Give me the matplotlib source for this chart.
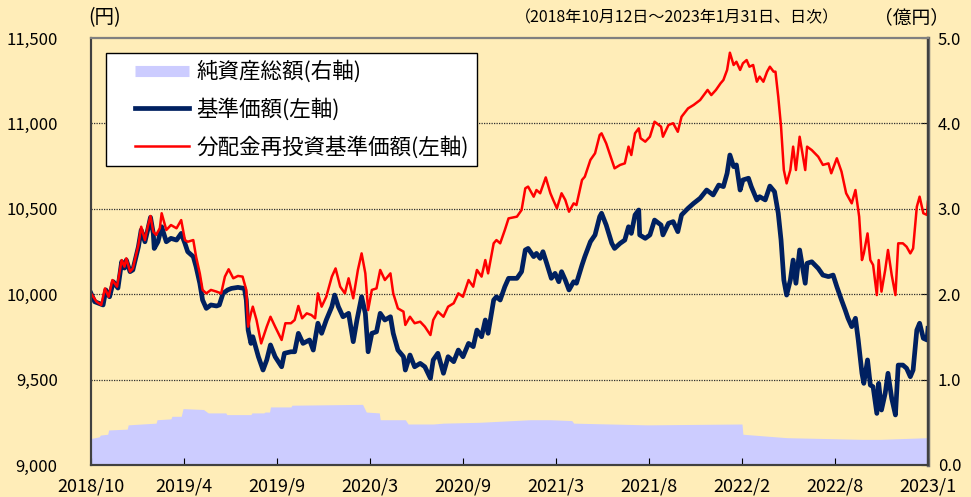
import numpy as np
import matplotlib.pyplot as plt
from matplotlib.lines import Line2D
from matplotlib.legend_handler import HandlerLine2D

plt.rcParams['font.family'] = ['Noto Sans CJK JP', 'DejaVu Sans']

# x is a trading-day index scaled so that each date label is 100 apart
tick_labels = ['2018/10', '2019/4', '2019/9', '2020/3', '2020/9',
               '2021/3', '2021/8', '2022/2', '2022/8', '2023/1']

nav_x = [0, 4, 13, 16, 20, 24, 29, 33, 36, 38, 42, 45, 51, 54, 58, 61, 64, 67, 68, 72,
         76, 81, 86, 92, 97, 101, 104, 110, 113, 117, 120, 124, 129, 135, 138, 142, 147,
         151, 158, 165, 167, 169, 172, 174, 180, 185, 189, 193, 198, 205, 208, 215, 219,
         223, 228, 235, 239, 244, 248, 253, 259, 262, 266, 271, 277, 282, 286, 291, 295,
         298, 302, 307, 311, 316, 322, 325, 330, 336, 338, 343, 348, 354, 359, 365, 368,
         373, 379, 384, 390, 395, 400, 406, 411, 415, 420, 424, 427, 433, 436, 440, 445,
         449, 451, 458, 463, 467, 470, 476, 479, 483, 486, 490, 495, 499, 503, 506, 510,
         514, 519, 522, 528, 531, 537, 542, 547, 549, 554, 560, 563, 569, 574, 578, 581,
         585, 589, 590, 596, 601, 606, 613, 615, 621, 626, 631, 635, 642, 648, 655, 662,
         669, 675, 680, 684, 687, 691, 694, 698, 701, 707, 710, 716, 719, 725, 730, 735,
         739, 742, 745, 748, 752, 755, 758, 762, 768, 770, 775, 782, 787, 793, 798, 802,
         807, 811, 814, 818, 822, 825, 829, 831, 835, 838, 841, 845, 847, 850, 854, 857,
         861, 865, 868, 873, 877, 881, 884, 888, 891, 895, 899, 900]
nav = [10005, 9956, 9937, 10025, 9985, 10073, 10036, 10190, 10153, 10200, 10132, 10142,
       10278, 10376, 10307, 10376, 10450, 10356, 10268, 10307, 10395, 10307, 10327, 10317,
       10356, 10298, 10249, 10220, 10161, 10064, 9966, 9917, 9937, 9931, 9937, 10005, 10025,
       10034, 10040, 10034, 9966, 9790, 9712, 9751, 9634, 9556, 9615, 9703, 9634, 9575,
       9654, 9663, 9663, 9771, 9712, 9732, 9673, 9830, 9771, 9849, 9927, 9995, 9927, 9868,
       9888, 9722, 9849, 9985, 9888, 9663, 9771, 9780, 9888, 9849, 9868, 9771, 9673, 9634,
       9556, 9644, 9575, 9595, 9575, 9507, 9615, 9654, 9537, 9634, 9605, 9673, 9634, 9712,
       9693, 9790, 9751, 9849, 9771, 9966, 9985, 9966, 10044, 10093, 10093, 10093, 10132,
       10259, 10268, 10220, 10239, 10210, 10249, 10181, 10093, 10122, 10073, 10132, 10083,
       10025, 10073, 10064, 10171, 10220, 10307, 10347, 10454, 10474, 10405, 10298, 10268,
       10298, 10317, 10395, 10356, 10464, 10493, 10347, 10327, 10347, 10434, 10405, 10347,
       10415, 10425, 10366, 10464, 10503, 10532, 10562, 10610, 10581, 10639, 10630, 10708,
       10815, 10747, 10757, 10610, 10669, 10679, 10630, 10552, 10571, 10552, 10633, 10600,
       10474, 10317, 10083, 9995, 10083, 10200, 10064, 10259, 10064, 10181, 10190, 10151,
       10112, 10103, 10112, 10044, 9966, 9907, 9859, 9810, 9859, 9732, 9537, 9478, 9615,
       9468, 9458, 9302, 9478, 9322, 9420, 9537, 9390, 9293, 9585, 9585, 9566, 9517, 9556,
       9790, 9830, 9742, 9732, 9800]

reinv_x = [0, 6, 11, 15, 19, 23, 28, 33, 36, 38, 42, 45, 51, 54, 58, 61, 64, 67, 70, 74,
           76, 81, 86, 92, 97, 101, 104, 110, 113, 117, 120, 124, 129, 135, 140, 144, 148,
           153, 158, 163, 167, 169, 172, 174, 178, 183, 189, 193, 198, 205, 209, 215, 219,
           223, 227, 232, 237, 241, 244, 248, 253, 259, 263, 268, 273, 277, 282, 287, 291,
           295, 298, 302, 307, 311, 316, 322, 325, 330, 336, 338, 343, 348, 354, 359, 365,
           368, 373, 379, 384, 390, 395, 400, 406, 411, 415, 420, 424, 427, 433, 436, 440,
           445, 449, 458, 463, 467, 470, 476, 479, 483, 489, 494, 497, 501, 506, 510, 514,
           519, 522, 528, 531, 537, 542, 547, 549, 554, 560, 563, 569, 574, 578, 581, 585,
           589, 591, 596, 601, 606, 613, 615, 621, 626, 631, 635, 642, 648, 655, 663, 667,
           672, 677, 680, 684, 687, 691, 694, 698, 701, 705, 708, 712, 716, 719, 723, 727,
           730, 734, 736, 739, 742, 745, 748, 752, 755, 758, 762, 768, 770, 775, 782, 787,
           793, 796, 802, 807, 812, 818, 822, 826, 829, 831, 835, 838, 841, 845, 847, 850,
           854, 857, 861, 865, 868, 873, 877, 881, 884, 888, 891, 895, 899, 900]
reinv = [10005, 9956, 9937, 10034, 9985, 10083, 10044, 10200, 10161, 10210, 10132, 10151,
         10288, 10395, 10317, 10395, 10458, 10366, 10347, 10386, 10474, 10376, 10405, 10386,
         10434, 10317, 10307, 10317, 10220, 10122, 10025, 10005, 10025, 10015, 10005, 10103,
         10146, 10093, 10107, 10103, 10025, 9810, 9888, 9927, 9849, 9712, 9810, 9868, 9810,
         9732, 9830, 9830, 9849, 9931, 9859, 9888, 9878, 9859, 10005, 9927, 9985, 10103,
         10151, 10044, 10005, 10093, 9976, 10142, 10239, 10122, 9907, 10025, 10034, 10142,
         10083, 10122, 10005, 9917, 9898, 9820, 9868, 9830, 9839, 9810, 9761, 9849, 9898,
         9868, 9927, 9947, 10005, 9985, 10083, 10044, 10142, 10103, 10200, 10122, 10298,
         10317, 10298, 10376, 10444, 10454, 10493, 10620, 10630, 10571, 10610, 10591, 10684,
         10591, 10552, 10503, 10591, 10552, 10483, 10532, 10522, 10669, 10688, 10786, 10825,
         10932, 10942, 10883, 10786, 10737, 10757, 10766, 10864, 10815, 10942, 10971, 10913,
         10893, 10922, 11010, 10981, 10922, 10991, 11001, 10951, 11039, 11088, 11108, 11137,
         11196, 11166, 11196, 11235, 11254, 11313, 11414, 11342, 11361, 11313, 11352, 11371,
         11332, 11342, 11244, 11274, 11244, 11303, 11332, 11303, 11303, 11156, 10981, 10727,
         10649, 10727, 10864, 10727, 10922, 10727, 10864, 10844, 10805, 10757, 10766, 10708,
         10796, 10718, 10591, 10532, 10610, 10454, 10200, 10239, 10356, 10200, 10171, 9995,
         10200, 10015, 10142, 10259, 10112, 9995, 10298, 10298, 10278, 10239, 10268, 10512,
         10571, 10474, 10464, 10542]

# net assets (億円)
aum_x = [0, 9, 10, 18, 19, 39, 40, 70, 71, 86, 87, 97, 99, 121, 126, 145, 146, 172, 173,
         186, 187, 192, 193, 215, 216, 292, 296, 310, 311, 338, 341, 368, 379, 418, 472,
         494, 517, 519, 598, 700, 701, 748, 830, 848, 900]
aum = [0.31, 0.33, 0.35, 0.36, 0.41, 0.42, 0.47, 0.49, 0.53, 0.54, 0.57, 0.57, 0.66,
       0.65, 0.61, 0.61, 0.59, 0.59, 0.61, 0.61, 0.62, 0.62, 0.68, 0.68, 0.70, 0.71, 0.62,
       0.61, 0.53, 0.53, 0.48, 0.48, 0.49, 0.50, 0.53, 0.53, 0.52, 0.49, 0.47, 0.48, 0.36,
       0.32, 0.30, 0.30, 0.32]

bg = '#FFEDB8'
navy = '#002060'

fig = plt.figure(figsize=(9.71, 4.97), dpi=100, facecolor=bg)
ax = fig.add_axes([0.0937, 0.0644, 0.862, 0.8591])
ax2 = ax.twinx()
ax.set_zorder(ax2.get_zorder() + 1)
ax.patch.set_visible(False)
ax2.patch.set_facecolor('white')

ax2.fill_between(aum_x, aum, 0, color='#CCCCFF', linewidth=0)
ax.plot(nav_x, nav, color=navy, linewidth=3.4, solid_joinstyle='round')
ax.plot(reinv_x, reinv, color='#FF0000', linewidth=1.8, solid_joinstyle='round')

ax.set_xlim(0, 900)
ax.set_ylim(9000, 11500)
ax2.set_ylim(0, 5)

ax.set_yticks([9000, 9500, 10000, 10500, 11000, 11500])
ax.set_yticklabels(['{:,}'.format(v) for v in [9000, 9500, 10000, 10500, 11000, 11500]],
                   fontsize=12)
ax2.set_yticks([0, 1, 2, 3, 4, 5])
ax2.set_yticklabels(['%.1f' % v for v in [0, 1, 2, 3, 4, 5]], fontsize=12)
ax.set_xticks(np.arange(0, 901, 100))
ax.set_xticklabels(tick_labels, fontsize=13)

ax.tick_params(axis='y', length=0, pad=24)
ax2.tick_params(axis='y', direction='in', length=5, pad=7)
ax.tick_params(axis='x', direction='in', length=5, pad=9)

for v in [9500, 10000, 10500, 11000]:
    ax.axhline(v, color='#303030', linewidth=0.9, linestyle=(0, (1, 1)), zorder=1)

for a in (ax, ax2):
    for s in a.spines.values():
        s.set_color('#404040')
        s.set_linewidth(1.5)
ax2.spines['right'].set_color('#707070')
ax2.spines['right'].set_linewidth(2.5)
ax.spines['top'].set_color('#808080')

handles = [Line2D([], [], color='#CCCCFF', linewidth=8, solid_capstyle='butt'),
           Line2D([], [], color=navy, linewidth=3.4),
           Line2D([], [], color='#FF0000', linewidth=1.8)]
labels = ['純資産総額(右軸)', '基準価額(左軸)', '分配金再投資基準価額(左軸)']
hmap = {h: HandlerLine2D(xpad=1.0) for h in handles}
leg = ax.legend(handles, labels, loc='upper left', bbox_to_anchor=(0.018, 0.965),
                borderaxespad=0, fontsize=15.5, handlelength=3.5, handletextpad=0.35,
                labelspacing=0.7, fancybox=False, framealpha=1, edgecolor='black',
                borderpad=0.35, handler_map=hmap)
leg.get_frame().set_linewidth(1.0)

fig.text(0.0905, 0.965, '(円)', fontsize=14, ha='left', va='center')
fig.text(0.697, 0.965, '（2018年10月12日～2023年1月31日、日次）', fontsize=11.5,
         ha='center', va='center')
fig.text(0.977, 0.965, '（億円）', fontsize=13.5, ha='right', va='center')

fig.savefig('out.png', dpi=100, facecolor=bg)
